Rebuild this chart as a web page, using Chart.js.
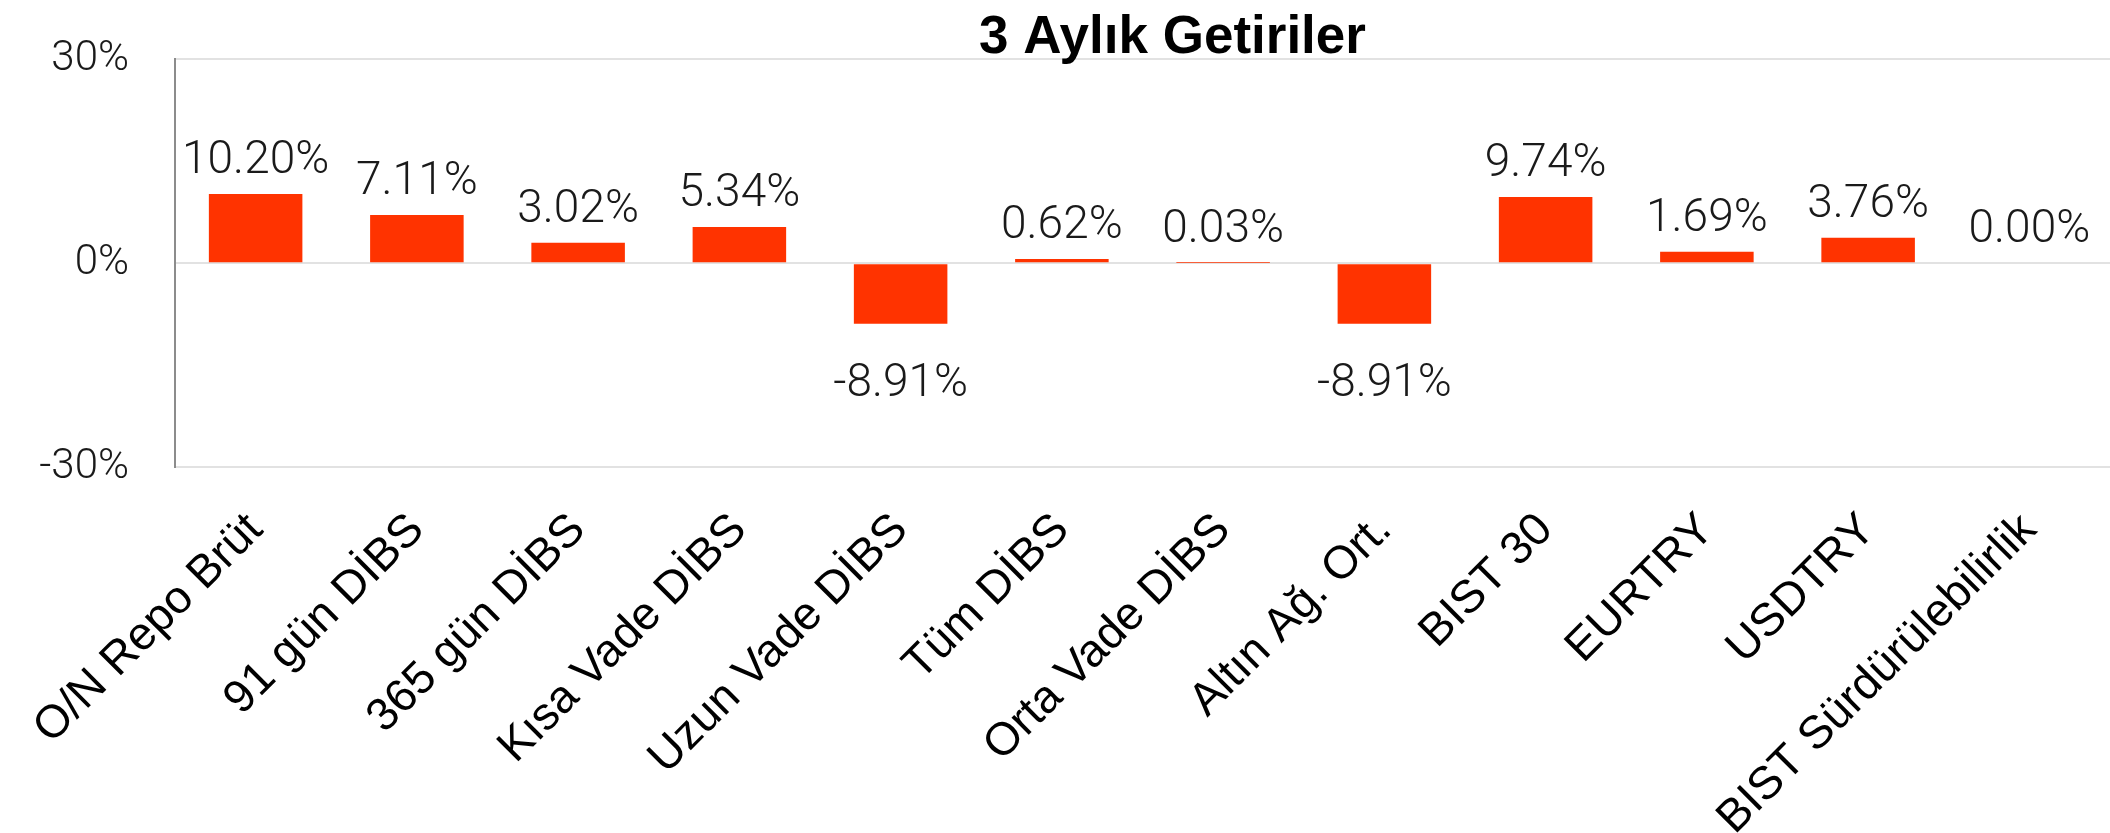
<!DOCTYPE html>
<html>
<head>
<meta charset="utf-8">
<script src="https://cdn.jsdelivr.net/npm/chart.js@4"></script>
<style>
  body { margin: 0; background: #fff; }
  #wrap { width: 2110px; height: 833px; }
</style>
</head>
<body>
<div id="wrap"><canvas id="myChart" width="2110" height="833"></canvas></div>
<script>
var categories = ["O/N Repo Brüt", "91 gün DİBS", "365 gün DİBS", "Kısa Vade DİBS", "Uzun Vade DİBS",
    "Tüm DİBS", "Orta Vade DİBS", "Altın Ağ. Ort.", "BIST 30", "EURTRY", "USDTRY", "BIST Sürdürülebilirlik"];
var returns = [10.20, 7.11, 3.02, 5.34, -8.91, 0.62, 0.03, -8.91, 9.74, 1.69, 3.76, 0.00];
var yTicks = [-30, 0, 30];

// value labels above / below each bar
var valueLabels = {
    id: "valueLabels",
    afterLayout: function (chart) {
        // title sits a bit right of the plot centre in the original
        if (chart.titleBlock) {
            chart.titleBlock.left += 60;
        }
    },
    afterDatasetsDraw: function (chart) {
        var ctx = chart.ctx;
        var meta = chart.getDatasetMeta(0);
        ctx.save();
        ctx.font = "300 46px Roboto, 'Liberation Sans', sans-serif";
        ctx.fillStyle = "#1a1a1a";
        ctx.textAlign = "center";
        ctx.textBaseline = "alphabetic";
        for (var i = 0; i < meta.data.length; i++) {
            var bar = meta.data[i];
            var v = returns[i];
            var txt = v.toFixed(2) + "%";
            if (v < 0) {
                ctx.fillText(txt, bar.x, bar.y + 72);
            } else {
                ctx.fillText(txt, bar.x, bar.y - 21);
            }
        }
        ctx.restore();
    }
};

new Chart("myChart", {
    type: "bar",
    data: {
        labels: categories,
        datasets: [{
            data: returns,
            backgroundColor: "#ff3300",
            borderWidth: 0,
            categoryPercentage: 1,
            barPercentage: 0.58
        }]
    },
    options: {
        responsive: false,
        animation: false,
        layout: { padding: 0 },
        plugins: {
            legend: { display: false },
            tooltip: { enabled: false },
            title: {
                display: true,
                text: "3 Aylık Getiriler",
                fullSize: false,
                color: "#000",
                font: { family: "'Liberation Sans', Arial, sans-serif", size: 53, weight: "bold", lineHeight: 0.8 },
                padding: { top: 17, bottom: 0 }
            }
        },
        scales: {
            x: {
                grid: { display: false },
                border: { display: false },
                ticks: {
                    color: "#000",
                    font: { family: "'Liberation Sans', Arial, sans-serif", size: 46 },
                    minRotation: 45,
                    maxRotation: 45,
                    autoSkip: false,
                    padding: 28
                },
                afterFit: function (scale) {
                    scale.height = 366;
                    scale.paddingLeft = 0;
                    scale.paddingRight = 0;
                }
            },
            y: {
                min: -30,
                max: 30,
                afterBuildTicks: function (scale) {
                    scale.ticks = yTicks.map(function (v) { return { value: v }; });
                },
                grid: { color: "#e2e2e2", lineWidth: 2, drawTicks: false },
                border: { display: true, color: "#8c8c8c", width: 2 },
                ticks: {
                    color: "#1a1a1a",
                    font: { family: "Roboto, 'Liberation Sans', sans-serif", size: 42, weight: 300 },
                    padding: 46,
                    callback: function (v) { return v + "%"; }
                },
                afterFit: function (scale) {
                    scale.width = 175;
                    scale.paddingTop = 0;
                    scale.paddingBottom = 0;
                }
            }
        }
    },
    plugins: [valueLabels]
});
</script>
</body>
</html>
